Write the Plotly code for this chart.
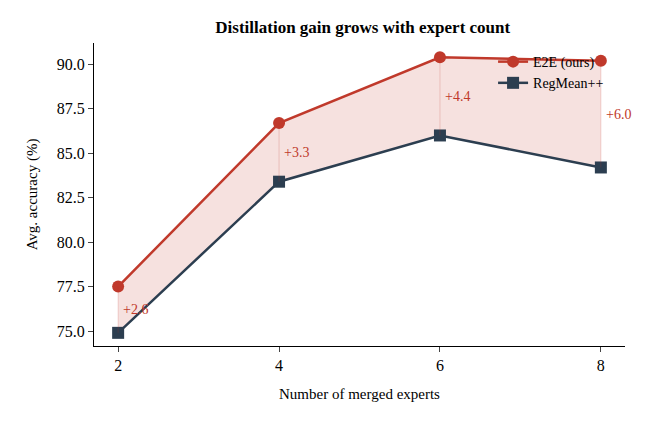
import plotly.graph_objects as go

experts = [2, 4, 6, 8]
e2e = [77.5, 86.7, 90.4, 90.2]
regmean = [74.9, 83.4, 86.0, 84.2]
gains = ["+2.6", "+3.3", "+4.4", "+6.0"]

red = "#c0392b"
navy = "#2c3e50"

fig = go.Figure()
fig.add_trace(go.Scatter(x=experts, y=regmean, mode="lines", line=dict(width=0),
                         showlegend=False, hoverinfo="skip"))
fig.add_trace(go.Scatter(x=experts, y=e2e, mode="lines", line=dict(width=0),
                         fill="tonexty", fillcolor="rgba(192,57,43,0.15)",
                         showlegend=False, hoverinfo="skip"))
fig.add_trace(go.Scatter(x=experts, y=e2e, mode="lines+markers", name="E2E (ours)",
                         line=dict(color=red, width=2.5),
                         marker=dict(symbol="circle", size=12, color=red)))
fig.add_trace(go.Scatter(x=experts, y=regmean, mode="lines+markers", name="RegMean++",
                         line=dict(color=navy, width=2.5),
                         marker=dict(symbol="square", size=12, color=navy)))

for x, a, b, g in zip(experts, e2e, regmean, gains):
    fig.add_shape(type="line", x0=x, x1=x, y0=b, y1=a,
                  line=dict(color="rgba(192,57,43,0.2)", width=1))
    fig.add_annotation(x=x, y=(a + b) / 2, text=g, showarrow=False,
                       xanchor="left", xshift=3, font=dict(color=red, size=14))

fig.update_layout(
    width=645, height=421,
    paper_bgcolor="white", plot_bgcolor="white",
    font=dict(family="Liberation Serif, Times New Roman, serif", size=16, color="black"),
    title=dict(text="<b>Distillation gain grows with expert count</b>", x=0.55, y=0.97,
               xanchor="center", font=dict(size=17)),
    margin=dict(l=86, r=28, t=35, b=83),
    legend=dict(x=0.97, y=0.99, xanchor="right", yanchor="top", traceorder="normal",
                bgcolor="rgba(0,0,0,0)", font=dict(size=14)),
    xaxis=dict(range=[1.7, 8.3], tickvals=experts,
               title=dict(text="Number of merged experts", font=dict(size=15)),
               showline=True, linecolor="black", ticks="outside", showgrid=False, zeroline=False),
    yaxis=dict(range=[74.16, 91.2], tickvals=[75, 77.5, 80, 82.5, 85, 87.5, 90],
               tickformat=".1f", title=dict(text="Avg. accuracy (%)", font=dict(size=15)),
               showline=True, linecolor="black", ticks="outside", showgrid=False, zeroline=False),
)

fig.write_html("out.html")
